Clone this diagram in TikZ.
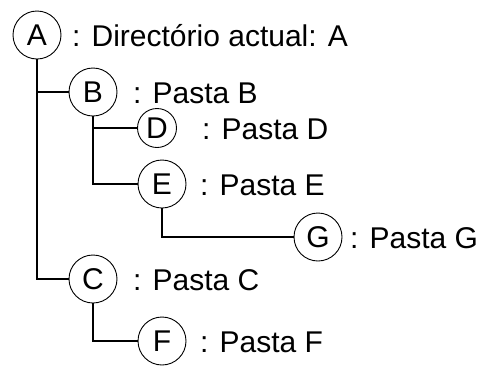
\documentclass[tikz,border=0pt]{standalone}
\usepackage{fontspec}
\setmainfont{Liberation Sans}
\begin{document}
\begin{tikzpicture}[x=1pt,y=-1pt,
  fold/.style={circle,draw,line width=0.9pt,minimum size=48pt,inner sep=0pt,font=\fontsize{30}{36}\selectfont},
  smallfold/.style={fold,minimum size=39pt},
  lab/.style={anchor=base west,inner sep=0pt,font=\fontsize{30}{36}\selectfont},
  link/.style={line width=1.9pt}]
\useasboundingbox (0,0) rectangle (482,365);
\node[fold] (A) at (37,35) {A};
\node[fold] (B) at (93,92) {B};
\node[smallfold] (D) at (157,128) {D};
\node[fold] (E) at (162,184) {E};
\node[fold] (G) at (318,237) {G};
\node[fold] (C) at (93,279) {C};
\node[fold] (F) at (162,341) {F};
\node[lab] (lA) at (72,46) {: Directório actual: A};
\node[lab] (lB) at (133,103) {: Pasta B};
\node[lab] (lD) at (202,139) {: Pasta D};
\node[lab] (lE) at (200,195) {: Pasta E};
\node[lab] (lG) at (350,248) {: Pasta G};
\node[lab] (lC) at (133,290) {: Pasta C};
\node[lab] (lF) at (200,352) {: Pasta F};
\draw[link] (A.south) |- (B.west);
\draw[link] (A.south) |- (C.west);
\draw[link] (B.south) |- (D.west);
\draw[link] (B.south) |- (E.west);
\draw[link] (E.south) |- (G.west);
\draw[link] (C.south) |- (F.west);
\end{tikzpicture}
\end{document}
